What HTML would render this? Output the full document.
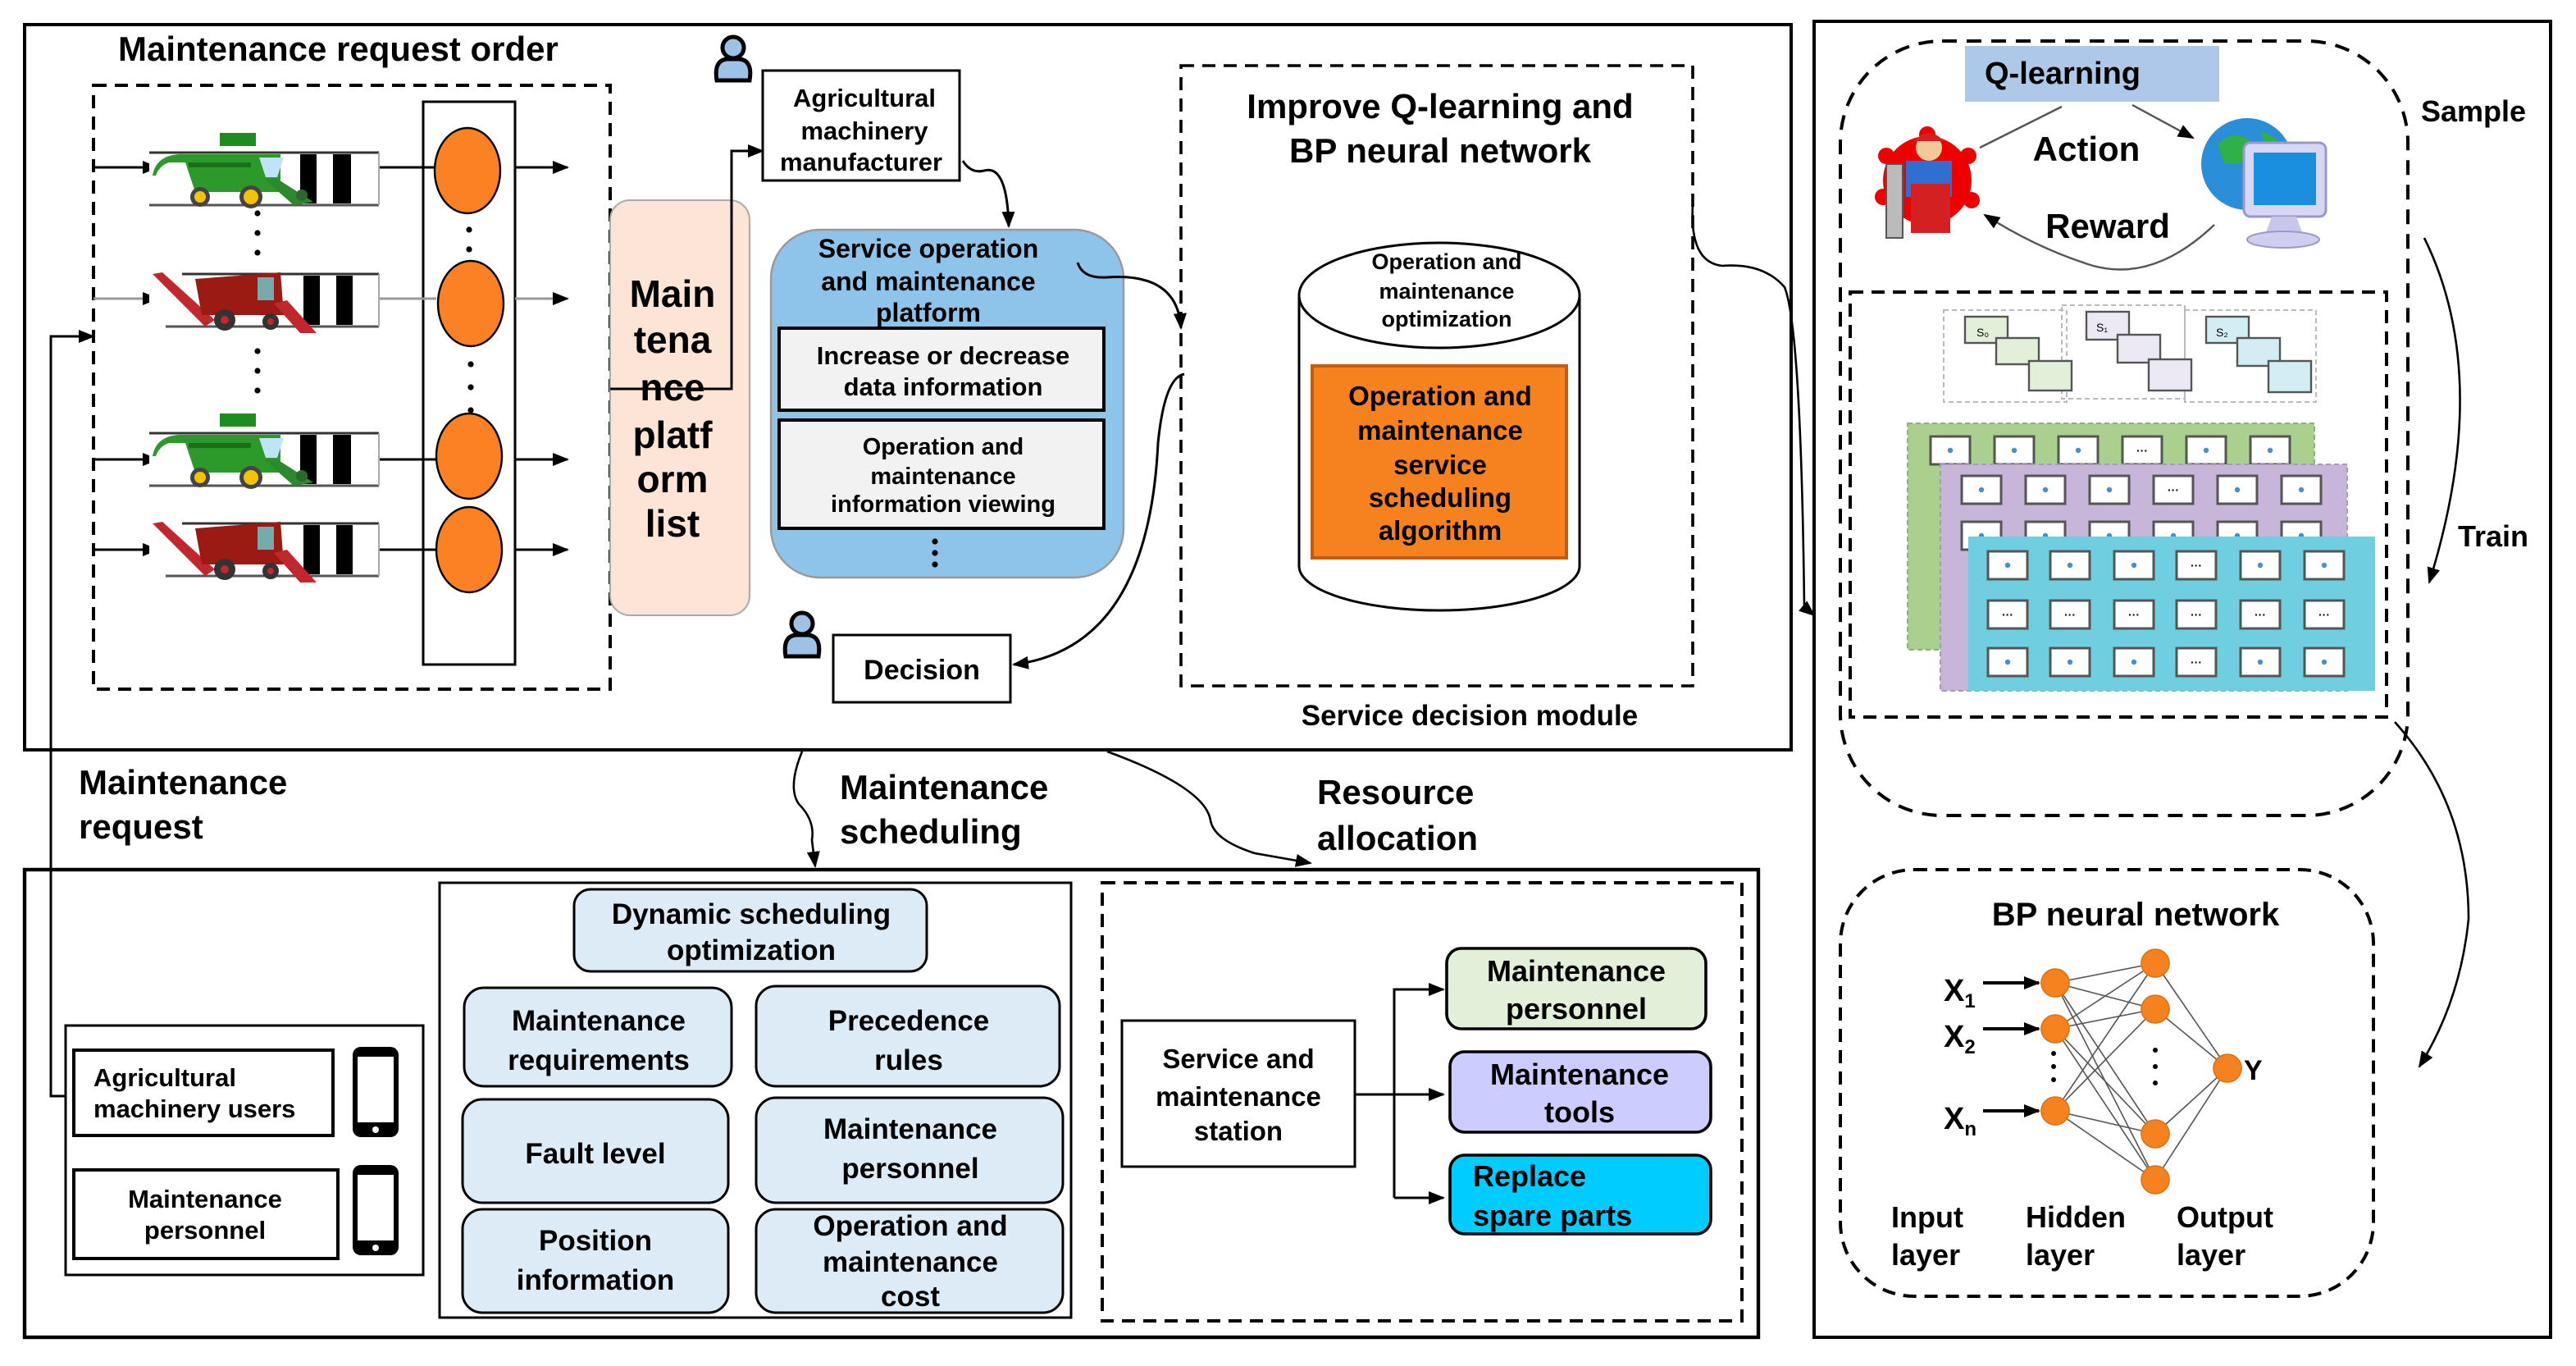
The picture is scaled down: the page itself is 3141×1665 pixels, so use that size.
<!DOCTYPE html>
<html><head><meta charset="utf-8"><style>
html,body{margin:0;padding:0;background:#fff}
svg{display:block}
text{font-family:"Liberation Sans",sans-serif;font-weight:bold;fill:#000}
</style></head><body>
<svg width="3141" height="1665" viewBox="0 0 1570.5 832.5" xmlns="http://www.w3.org/2000/svg">
<defs>
<marker id="ar" markerWidth="10" markerHeight="10" refX="9" refY="5" orient="auto" markerUnits="userSpaceOnUse"><path d="M0,1 L10,5 L0,9 Z" fill="#000"/></marker>
<g id="green">
 <rect x="-10" y="0" width="130" height="32" fill="#fff"/>
 <line x1="-10" y1="0" x2="130" y2="0" stroke="#333" stroke-width="1.5"/>
 <line x1="-10" y1="32" x2="130" y2="32" stroke="#555" stroke-width="1.5"/>
 <rect x="82" y="1" width="10" height="30" fill="#000"/><rect x="102" y="1" width="11" height="30" fill="#000"/>
 <line x1="130" y1="0" x2="130" y2="32" stroke="#aaa"/>
 <rect x="33" y="-12" width="22" height="8" fill="#1e8c1e"/>
 <path d="M-8,14 Q-6,2 8,1 L70,1 L70,24 L18,24 L12,6 L2,6 Q-4,8 -6,14Z" fill="#2b9a2b"/>
 <rect x="14" y="6" width="38" height="3" fill="#1a701a"/>
 <path d="M57,3 L72,3 L68,15 L61,15Z" fill="#bfe4f7"/>
 <path d="M60,16 L68,16 L90,30 L78,32Z" fill="#2b8a2b"/>
 <circle cx="21" cy="27" r="6" fill="#444"/><circle cx="21" cy="27" r="3.5" fill="#f2c400"/>
 <circle cx="52" cy="27" r="7" fill="#444"/><circle cx="52" cy="27" r="4.5" fill="#f2c400"/>
 <circle cx="83" cy="26" r="3.5" fill="#2b6a2b"/>
</g>
<g id="red">
 <rect x="-10" y="0" width="130" height="32" fill="#fff"/>
 <line x1="10" y1="0" x2="130" y2="0" stroke="#333" stroke-width="1.5"/>
 <line x1="0" y1="32" x2="130" y2="32" stroke="#555" stroke-width="1.5"/>
 <rect x="84" y="1" width="10" height="30" fill="#000"/><rect x="104" y="1" width="10" height="30" fill="#000"/>
 <line x1="130" y1="0" x2="130" y2="32" stroke="#aaa"/>
 <path d="M-8,0 L-2,-1 L30,28 L24,32Z" fill="#c1272d"/>
 <path d="M18,3 L70,-1 L72,25 L22,25Z" fill="#9b1a14"/>
 <rect x="56" y="2" width="10" height="14" fill="#7aa"/>
 <path d="M66,18 L74,16 L92,36 L82,36Z" fill="#c1272d"/>
 <circle cx="36" cy="28" r="6.5" fill="#333"/><circle cx="36" cy="28" r="2.5" fill="#c1272d"/>
 <circle cx="64" cy="29" r="5" fill="#333"/><circle cx="64" cy="29" r="2" fill="#c1272d"/>
</g>
<g id="person">
 <circle cx="0" cy="-6" r="6.5" fill="#9cc3e6" stroke="#000" stroke-width="2.5"/>
 <path d="M-10,14 Q-12,2 -4,1 L4,1 Q12,2 10,14 Z" fill="#9cc3e6" stroke="#000" stroke-width="2.5"/>
</g>
<g id="cell"><rect x="0" y="0" width="24" height="17" fill="#fff" stroke="#555" stroke-width="1.5"/><circle cx="12" cy="8.5" r="1.6" fill="#4a90c2"/></g>
<g id="cellD"><rect x="0" y="0" width="24" height="17" fill="#fff" stroke="#555" stroke-width="1.5"/><text x="12" y="11" font-size="7" text-anchor="middle" fill="#55a">···</text></g>
<g id="phone"><rect x="0" y="0" width="28" height="55" rx="5" fill="#000"/><rect x="3" y="6" width="22" height="40" fill="#fff"/><circle cx="14" cy="50.5" r="2" fill="#fff"/></g>
</defs>

<rect x="15" y="15" width="1077" height="442" fill="none" stroke="#000" stroke-width="2"/>
<text x="72" y="37" font-size="21">Maintenance request order</text>
<rect x="57" y="52" width="315" height="368" fill="none" stroke="#000" stroke-width="2" stroke-dasharray="8,5"/>
<rect x="258" y="62" width="56" height="343" fill="#fff" stroke="#000" stroke-width="1.5"/>

<g stroke="#000" stroke-width="1.5" fill="none">
<line x1="57" y1="102" x2="96" y2="102" marker-end="url(#ar)"/>
<line x1="57" y1="182" x2="96" y2="182" stroke="#999" marker-end="url(#ar)"/>
<line x1="57" y1="280" x2="96" y2="280" marker-end="url(#ar)"/>
<line x1="57" y1="335" x2="96" y2="335" marker-end="url(#ar)"/>
<line x1="231" y1="102" x2="266" y2="102"/><line x1="231" y1="182" x2="266" y2="182" stroke="#999"/>
<line x1="231" y1="280" x2="266" y2="280"/><line x1="231" y1="335" x2="266" y2="335"/>
<line x1="314" y1="102" x2="346" y2="102" marker-end="url(#ar)"/>
<line x1="314" y1="182" x2="346" y2="182" stroke="#999" marker-end="url(#ar)"/>
<line x1="314" y1="280" x2="346" y2="280" marker-end="url(#ar)"/>
<line x1="314" y1="335" x2="346" y2="335" marker-end="url(#ar)"/>
</g>
<use href="#green" x="101" y="93"/>
<use href="#red" x="101" y="167"/>
<use href="#green" x="101" y="264"/>
<use href="#red" x="101" y="319"/>
<g fill="#000">
<circle cx="157" cy="130" r="1.8"/><circle cx="157" cy="142" r="1.8"/><circle cx="157" cy="154" r="1.8"/>
<circle cx="157" cy="214" r="1.8"/><circle cx="157" cy="226" r="1.8"/><circle cx="157" cy="238" r="1.8"/>
<circle cx="286" cy="140" r="1.8"/><circle cx="286" cy="152" r="1.8"/><circle cx="286" cy="164" r="1.8"/>
<circle cx="287" cy="222" r="1.8"/><circle cx="287" cy="236" r="1.8"/><circle cx="287" cy="250" r="1.8"/>
</g>
<g fill="#fb8122" stroke="#000" stroke-width="1.2">
<ellipse cx="285" cy="104" rx="20" ry="26"/><ellipse cx="287" cy="185" rx="20" ry="26"/>
<ellipse cx="286" cy="278" rx="20" ry="26"/><ellipse cx="286" cy="335" rx="20" ry="26"/>
</g>

<rect x="372" y="122" width="85" height="253" rx="12" fill="#fce4d6" stroke="#aaa" stroke-width="1"/>
<g font-size="23" text-anchor="middle">
<text x="410" y="187">Main</text><text x="410" y="215">tena</text><text x="410" y="244">nce</text>
<text x="410" y="273">platf</text><text x="410" y="300">orm</text><text x="410" y="327">list</text>
</g>
<polyline points="372,237 446,237 446,92 465,92" fill="none" stroke="#000" stroke-width="1.5" marker-end="url(#ar)"/>

<use href="#person" x="447" y="35"/>
<rect x="465" y="43" width="120" height="67" fill="#fff" stroke="#000" stroke-width="1.5"/>
<g font-size="15.5" text-anchor="middle"><text x="527" y="65">Agricultural</text><text x="527" y="85">machinery</text><text x="525" y="104">manufacturer</text></g>
<path d="M587,98 Q592,106 600,104 Q614,100 615,138" fill="none" stroke="#000" stroke-width="1.5" marker-end="url(#ar)"/>

<rect x="470" y="140" width="215" height="212" rx="30" fill="#8ec3ea" stroke="#999" stroke-width="1.2"/>
<g font-size="16" text-anchor="middle"><text x="566" y="157">Service operation</text><text x="566" y="177">and maintenance</text><text x="566" y="196">platform</text></g>
<rect x="475" y="200" width="198" height="50" fill="#f2f2f2" stroke="#000" stroke-width="2"/>
<g font-size="15.5" text-anchor="middle"><text x="575" y="222">Increase or decrease</text><text x="575" y="241">data information</text></g>
<rect x="475" y="256" width="198" height="66" fill="#f2f2f2" stroke="#000" stroke-width="2"/>
<g font-size="14.5" text-anchor="middle"><text x="575" y="277">Operation and</text><text x="575" y="295">maintenance</text><text x="575" y="312">information viewing</text></g>
<g fill="#000"><circle cx="570" cy="330" r="1.8"/><circle cx="570" cy="337" r="1.8"/><circle cx="570" cy="344" r="1.8"/></g>
<path d="M657,160 Q660,170 675,169 Q718,166 720,200" fill="none" stroke="#000" stroke-width="1.5" marker-end="url(#ar)"/>
<path d="M722,228 Q710,230 706,270 Q700,395 618,405" fill="none" stroke="#000" stroke-width="1.5" marker-end="url(#ar)"/>

<use href="#person" x="489" y="386"/>
<rect x="508" y="387" width="108" height="41" fill="#fff" stroke="#000" stroke-width="1.5"/>
<text x="562" y="414" font-size="17" text-anchor="middle">Decision</text>

<rect x="720" y="40" width="312" height="378" fill="none" stroke="#000" stroke-width="1.8" stroke-dasharray="8,5"/>
<g font-size="21" text-anchor="middle"><text x="878" y="72">Improve Q-learning and</text><text x="878" y="99">BP neural network</text></g>
<path d="M792,180 L792,345 A85.5,27 0 0 0 963,345 L963,180" fill="#fff" stroke="#000" stroke-width="1.5"/>
<ellipse cx="877.5" cy="180" rx="85.5" ry="32" fill="#fff" stroke="#000" stroke-width="1.5"/>
<g font-size="13.5" text-anchor="middle"><text x="882" y="164">Operation and</text><text x="882" y="182">maintenance</text><text x="882" y="199">optimization</text></g>
<rect x="800" y="223" width="155" height="117" fill="#f5821f" stroke="#c55a11" stroke-width="2"/>
<g font-size="16.5" text-anchor="middle"><text x="878" y="247">Operation and</text><text x="878" y="268">maintenance</text><text x="878" y="289">service</text><text x="878" y="309">scheduling</text><text x="878" y="329">algorithm</text></g>
<text x="896" y="442" font-size="17.5" text-anchor="middle">Service decision module</text>
<path d="M1032,125 Q1030,160 1050,162 Q1075,160 1088,175 Q1098,200 1100,370 L1106,375" fill="none" stroke="#000" stroke-width="1.3" marker-end="url(#ar)"/>

<rect x="1106" y="13" width="449" height="802" fill="none" stroke="#000" stroke-width="2"/>
<rect x="1122" y="25" width="346" height="472" rx="62" fill="none" stroke="#000" stroke-width="2" stroke-dasharray="9,6"/>
<rect x="1198" y="28" width="155" height="34" fill="#adc8e8"/>
<text x="1210" y="51" font-size="19">Q-learning</text>
<g>
<circle cx="1175" cy="110" r="27" fill="#e00" />
<g fill="#e00"><circle cx="1175" cy="82" r="5"/><circle cx="1150" cy="95" r="5"/><circle cx="1200" cy="95" r="5"/><circle cx="1148" cy="120" r="5"/><circle cx="1202" cy="122" r="5"/></g>
<rect x="1150" y="100" width="10" height="45" fill="#bbb" stroke="#555"/>
<rect x="1162" y="98" width="28" height="22" fill="#2e6fd1"/>
<rect x="1165" y="112" width="24" height="30" fill="#d42020"/>
<circle cx="1176" cy="90" r="8" fill="#f4c99a"/>
<path d="M1167,86 Q1176,76 1185,86Z" fill="#d42020"/>
</g>
<circle cx="1370" cy="100" r="28" fill="#2a8fd8"/>
<path d="M1352,88 Q1362,78 1372,86 L1366,100 L1356,100Z M1378,80 Q1392,84 1394,96 L1384,94Z" fill="#2fb04a"/>
<rect x="1368" y="87" width="50" height="45" rx="4" fill="#d8d6f5" stroke="#9a98c8" stroke-width="1.5"/>
<rect x="1374" y="93" width="38" height="32" fill="#1a8fe0"/>
<path d="M1385,132 L1400,132 L1404,143 L1381,143Z" fill="#c8c6ea"/>
<ellipse cx="1392" cy="146" rx="22" ry="5" fill="#d0cef0" stroke="#9a98c8"/>
<line x1="1207" y1="90" x2="1257" y2="65" stroke="#555" stroke-width="1.2"/>
<line x1="1300" y1="64" x2="1337" y2="84" stroke="#555" stroke-width="1.2" marker-end="url(#ar)"/>
<path d="M1350,137 Q1310,175 1270,160 Q1240,150 1210,131" fill="none" stroke="#555" stroke-width="1.2" marker-end="url(#ar)"/>
<text x="1272" y="98" font-size="21" text-anchor="middle">Action</text>
<text x="1285" y="145" font-size="21" text-anchor="middle">Reward</text>
<text x="1508" y="74" font-size="18" text-anchor="middle">Sample</text>
<text x="1520" y="333" font-size="18" text-anchor="middle">Train</text>
<path d="M1478,145 Q1520,230 1481,355" fill="none" stroke="#000" stroke-width="1.3" marker-end="url(#ar)"/>
<path d="M1460,440 Q1505,490 1505,560 Q1500,610 1475,650" fill="none" stroke="#000" stroke-width="1.3" marker-end="url(#ar)"/>

<rect x="1128" y="178" width="327" height="259" fill="none" stroke="#000" stroke-width="2" stroke-dasharray="8,5"/>
<g stroke="#bbb" stroke-width="1" stroke-dasharray="3,2" fill="none">
<rect x="1185" y="189" width="75" height="56"/><rect x="1257" y="186" width="75" height="57"/><rect x="1332" y="189" width="80" height="56"/>
</g>
<g stroke="#555" stroke-width="1.2">
<rect x="1198" y="193" width="26" height="16" fill="#e2efd9"/><rect x="1217" y="206" width="26" height="16" fill="#e2efd9"/><rect x="1237" y="220" width="26" height="18" fill="#e2efd9"/>
<rect x="1272" y="190" width="26" height="17" fill="#ece9f4"/><rect x="1291" y="204" width="26" height="17" fill="#ece9f4"/><rect x="1310" y="219" width="26" height="19" fill="#ece9f4"/>
<rect x="1345" y="193" width="26" height="16" fill="#d2eef4"/><rect x="1364" y="206" width="26" height="17" fill="#d2eef4"/><rect x="1383" y="220" width="26" height="19" fill="#d2eef4"/>
</g>
<g font-size="7" fill="#555"><text x="1205" y="205" style="font-weight:normal">S₀</text><text x="1278" y="202" style="font-weight:normal">S₁</text><text x="1351" y="205" style="font-weight:normal">S₂</text></g>
<rect x="1163" y="258" width="248" height="138" fill="#a9d08e" stroke="#8fb07a" stroke-dasharray="3,2"/>
<use href="#cell" x="1177" y="266"/><use href="#cell" x="1216" y="266"/><use href="#cell" x="1255" y="266"/><use href="#cellD" x="1294" y="266"/><use href="#cell" x="1333" y="266"/><use href="#cell" x="1372" y="266"/>
<rect x="1183" y="283" width="248" height="138" fill="#c7b6d9" stroke="#a898bb" stroke-dasharray="3,2"/>
<use href="#cell" x="1196" y="290"/><use href="#cell" x="1235" y="290"/><use href="#cell" x="1274" y="290"/><use href="#cellD" x="1313" y="290"/><use href="#cell" x="1352" y="290"/><use href="#cell" x="1391" y="290"/>
<use href="#cell" x="1196" y="318"/><use href="#cell" x="1235" y="318"/><use href="#cell" x="1274" y="318"/><use href="#cell" x="1313" y="318"/><use href="#cell" x="1352" y="318"/><use href="#cell" x="1391" y="318"/>
<rect x="1200" y="327" width="248" height="94" fill="#6fcfe0"/>
<use href="#cell" x="1212" y="336"/><use href="#cell" x="1250" y="336"/><use href="#cell" x="1289" y="336"/><use href="#cellD" x="1327" y="336"/><use href="#cell" x="1366" y="336"/><use href="#cell" x="1405" y="336"/>
<use href="#cellD" x="1212" y="366"/><use href="#cellD" x="1250" y="366"/><use href="#cellD" x="1289" y="366"/><use href="#cellD" x="1327" y="366"/><use href="#cellD" x="1366" y="366"/><use href="#cellD" x="1405" y="366"/>
<use href="#cell" x="1212" y="395"/><use href="#cell" x="1250" y="395"/><use href="#cell" x="1289" y="395"/><use href="#cellD" x="1327" y="395"/><use href="#cell" x="1366" y="395"/><use href="#cell" x="1405" y="395"/>

<rect x="1122" y="530" width="325" height="260" rx="45" fill="none" stroke="#000" stroke-width="2" stroke-dasharray="8,5"/>
<text x="1302" y="564" font-size="20" text-anchor="middle">BP neural network</text>
<g stroke="#555" stroke-width="0.8">
<line x1="1253" y1="599" x2="1314" y2="587"/><line x1="1253" y1="599" x2="1314" y2="615"/><line x1="1253" y1="599" x2="1314" y2="691"/><line x1="1253" y1="599" x2="1314" y2="719"/>
<line x1="1253" y1="627" x2="1314" y2="587"/><line x1="1253" y1="627" x2="1314" y2="615"/><line x1="1253" y1="627" x2="1314" y2="691"/><line x1="1253" y1="627" x2="1314" y2="719"/>
<line x1="1253" y1="677" x2="1314" y2="587"/><line x1="1253" y1="677" x2="1314" y2="615"/><line x1="1253" y1="677" x2="1314" y2="691"/><line x1="1253" y1="677" x2="1314" y2="719"/>
<line x1="1314" y1="587" x2="1358" y2="651"/><line x1="1314" y1="615" x2="1358" y2="651"/><line x1="1314" y1="691" x2="1358" y2="651"/><line x1="1314" y1="719" x2="1358" y2="651"/>
</g>
<g fill="#f5821f" stroke="#e07010" stroke-width="0.8">
<circle cx="1253" cy="599" r="8.5"/><circle cx="1253" cy="627" r="8.5"/><circle cx="1253" cy="677" r="8.5"/>
<circle cx="1314" cy="587" r="8.5"/><circle cx="1314" cy="615" r="8.5"/><circle cx="1314" cy="691" r="8.5"/><circle cx="1314" cy="719" r="8.5"/>
<circle cx="1358" cy="651" r="8.5"/>
</g>
<g fill="#000"><circle cx="1252" cy="642" r="1.5"/><circle cx="1252" cy="650" r="1.5"/><circle cx="1252" cy="658" r="1.5"/>
<circle cx="1314" cy="640" r="1.5"/><circle cx="1314" cy="650" r="1.5"/><circle cx="1314" cy="660" r="1.5"/></g>
<g stroke="#000" stroke-width="2"><line x1="1209" y1="599" x2="1243" y2="599" marker-end="url(#ar)"/><line x1="1209" y1="627" x2="1243" y2="627" marker-end="url(#ar)"/><line x1="1209" y1="677" x2="1243" y2="677" marker-end="url(#ar)"/></g>
<g font-size="19"><text x="1185" y="610">X<tspan font-size="12" dy="4">1</tspan></text><text x="1185" y="638">X<tspan font-size="12" dy="4">2</tspan></text><text x="1185" y="688">X<tspan font-size="12" dy="4">n</tspan></text><text x="1368" y="658" font-size="17">Y</text></g>
<g font-size="18"><text x="1153" y="748">Input</text><text x="1153" y="771">layer</text><text x="1235" y="748">Hidden</text><text x="1235" y="771">layer</text><text x="1327" y="748">Output</text><text x="1327" y="771">layer</text></g>

<g font-size="21"><text x="48" y="484">Maintenance</text><text x="48" y="511">request</text>
<text x="512" y="487">Maintenance</text><text x="512" y="514">scheduling</text>
<text x="803" y="490">Resource</text><text x="803" y="518">allocation</text></g>
<path d="M489,458 Q480,480 487,490 Q497,500 495,512 L497,528" fill="none" stroke="#000" stroke-width="1.3" marker-end="url(#ar)"/>
<path d="M675,458 Q735,480 738,500 Q740,512 765,520 L799,526" fill="none" stroke="#000" stroke-width="1.3" marker-end="url(#ar)"/>
<polyline points="45,668 31,668 31,205 57,205" fill="none" stroke="#000" stroke-width="1.5" marker-end="url(#ar)"/>

<rect x="15" y="530" width="1057" height="285" fill="none" stroke="#000" stroke-width="2.2"/>
<rect x="40" y="625" width="218" height="152" fill="#fff" stroke="#000" stroke-width="1.5"/>
<rect x="45" y="640" width="158" height="52" fill="#fff" stroke="#000" stroke-width="2"/>
<g font-size="15.5"><text x="57" y="662">Agricultural</text><text x="57" y="681">machinery users</text></g>
<use href="#phone" x="215" y="638"/>
<rect x="45" y="713" width="161" height="54" fill="#fff" stroke="#000" stroke-width="2"/>
<g font-size="15.5" text-anchor="middle"><text x="125" y="736">Maintenance</text><text x="125" y="755">personnel</text></g>
<use href="#phone" x="215" y="710"/>

<rect x="268" y="538" width="385" height="265" fill="#fff" stroke="#000" stroke-width="1.5"/>
<g fill="#ddebf7" stroke="#000" stroke-width="1.5">
<rect x="350" y="542" width="215" height="50" rx="10"/>
<rect x="283" y="602" width="163" height="60" rx="12"/><rect x="461" y="601" width="185" height="61" rx="12"/>
<rect x="282" y="670" width="162" height="63" rx="12"/><rect x="461" y="669" width="187" height="64" rx="12"/>
<rect x="282" y="737" width="162" height="63" rx="12"/><rect x="461" y="737" width="187" height="63" rx="12"/>
</g>
<g font-size="17.5" text-anchor="middle">
<text x="458" y="563">Dynamic scheduling</text><text x="458" y="585">optimization</text>
<text x="365" y="628">Maintenance</text><text x="365" y="652">requirements</text>
<text x="554" y="628">Precedence</text><text x="554" y="652">rules</text>
<text x="363" y="709">Fault level</text>
<text x="555" y="694">Maintenance</text><text x="555" y="718">personnel</text>
<text x="363" y="762">Position</text><text x="363" y="786">information</text>
<text x="555" y="753">Operation and</text><text x="555" y="775">maintenance</text><text x="555" y="796">cost</text>
</g>

<rect x="672" y="538" width="390" height="267" fill="none" stroke="#000" stroke-width="2" stroke-dasharray="8,5"/>
<rect x="684" y="622" width="142" height="89" fill="#fff" stroke="#000" stroke-width="1.5"/>
<g font-size="16.5" text-anchor="middle"><text x="755" y="651">Service and</text><text x="755" y="674">maintenance</text><text x="755" y="695">station</text></g>
<g stroke="#000" stroke-width="1.5" fill="none">
<line x1="826" y1="667" x2="880" y2="667" marker-end="url(#ar)"/>
<polyline points="850,730 850,603 880,603" marker-end="url(#ar)"/>
<line x1="850" y1="730" x2="880" y2="730" marker-end="url(#ar)"/>
</g>
<rect x="882" y="578" width="158" height="49" rx="9" fill="#e2f0d9" stroke="#000" stroke-width="1.8"/>
<rect x="884" y="641" width="159" height="49" rx="9" fill="#ccccff" stroke="#000" stroke-width="1.8"/>
<rect x="884" y="704" width="159" height="48" rx="9" fill="#00ccff" stroke="#000" stroke-width="1.8"/>
<g font-size="18"><text x="961" y="598" text-anchor="middle">Maintenance</text><text x="961" y="621" text-anchor="middle">personnel</text>
<text x="963" y="661" text-anchor="middle">Maintenance</text><text x="963" y="684" text-anchor="middle">tools</text>
<text x="898" y="723">Replace</text><text x="898" y="747">spare parts</text></g>
</svg>
</body></html>
